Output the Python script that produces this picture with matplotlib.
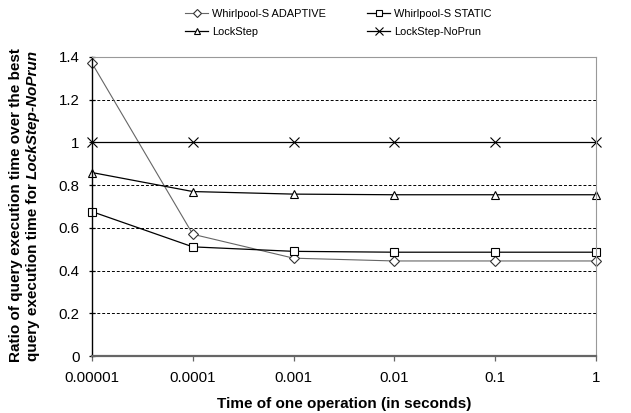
import numpy as np
import matplotlib.pyplot as plt

plt.rcParams['font.family'] = ['Liberation Sans', 'DejaVu Sans']

x_labels = ["0.00001", "0.0001", "0.001", "0.01", "0.1", "1"]
adaptive = [1.371, 0.570, 0.458, 0.445, 0.445, 0.445]
static = [0.676, 0.511, 0.490, 0.486, 0.486, 0.486]
lockstep = [0.859, 0.770, 0.758, 0.755, 0.755, 0.755]
noprun = [1.0, 1.0, 1.0, 1.0, 1.0, 1.0]

W, H = 631, 413
fig = plt.figure(figsize=(W / 100, H / 100), dpi=100)
ax = fig.add_axes([92 / W, 1 - 356 / H, 504 / W, 299 / H])

xs = np.arange(len(x_labels))
mk = dict(markerfacecolor='white', markersize=6, markeredgewidth=0.8)
l1, = ax.plot(xs, adaptive, color='#666666', lw=0.8, marker='D', markersize=4.8,
              markerfacecolor='white', markeredgewidth=0.8, markeredgecolor='#333333',
              label='Whirlpool-S ADAPTIVE')
l2, = ax.plot(xs, static, color='black', lw=0.9, marker='s', label='Whirlpool-S STATIC', **mk)
l3, = ax.plot(xs, lockstep, color='black', lw=0.9, marker='^', label='LockStep', **mk)
l4, = ax.plot(xs, noprun, color='black', lw=0.9, marker='x', markersize=7.5,
              markeredgewidth=0.8, label='LockStep-NoPrun')
for l in (l1, l2, l3, l4):
    l.set_clip_on(False)

ax.set_xlim(0, 5)
ax.set_ylim(0, 1.4)
ax.set_yticks(np.arange(0, 1.41, 0.2))
ax.set_yticklabels(['0', '0.2', '0.4', '0.6', '0.8', '1', '1.2', '1.4'])
ax.set_xticks(xs)
ax.set_xticklabels(x_labels)
for yv in np.arange(0.2, 1.21, 0.2):
    ax.axhline(yv, color='black', lw=0.7, ls=(0, (3, 2)), zorder=0)

ax.spines['left'].set_color('black')
ax.spines['left'].set_linewidth(1.0)
ax.spines['bottom'].set_color('#666666')
ax.spines['bottom'].set_linewidth(1.6)
ax.spines['top'].set_color('#999999')
ax.spines['right'].set_color('#999999')
ax.tick_params(axis='both', labelsize=10.8, width=0.9)
ax.tick_params(axis='x', direction='out', length=3.6, pad=7, color='#666666')
ax.tick_params(axis='y', direction='inout', length=4, pad=7, color='black')

ax.set_xlabel('Time of one operation (in seconds)', fontsize=11, fontweight='bold', labelpad=9)

# y label: two lines, second one has a bold-italic part
yc = 1 - 205.5 / H
fig.text(16.5 / W, yc, 'Ratio of query execution time over the best', rotation=90,
         fontsize=11, fontweight='bold', ha='center', va='center')
fig.canvas.draw()
r = fig.canvas.get_renderer()
ta = fig.text(0, 0, 'query execution time for ', rotation=90, fontsize=11, fontweight='bold')
tb = fig.text(0, 0, 'LockStep-NoPrun', rotation=90, fontsize=11, fontweight='bold', style='italic')
ha_ = ta.get_window_extent(r).height
hb_ = tb.get_window_extent(r).height
y0 = yc * H - (ha_ + hb_) / 2
xl = 33 / W
ta.set_position((xl, y0 / H))
ta.set_ha('center'); ta.set_va('bottom')
tb.set_position((xl, (y0 + ha_) / H))
tb.set_ha('center'); tb.set_va('bottom')

leg = fig.legend(handles=[l1, l3, l2, l4], ncol=2, loc='upper left',
                 bbox_to_anchor=(185 / W, 1 - 9 / H), frameon=False, fontsize=7.9,
                 handlelength=2.1, handletextpad=0.35, columnspacing=3.8,
                 labelspacing=0.75, borderpad=0, borderaxespad=0, markerscale=0.8)

fig.savefig('out.png', dpi=100)
